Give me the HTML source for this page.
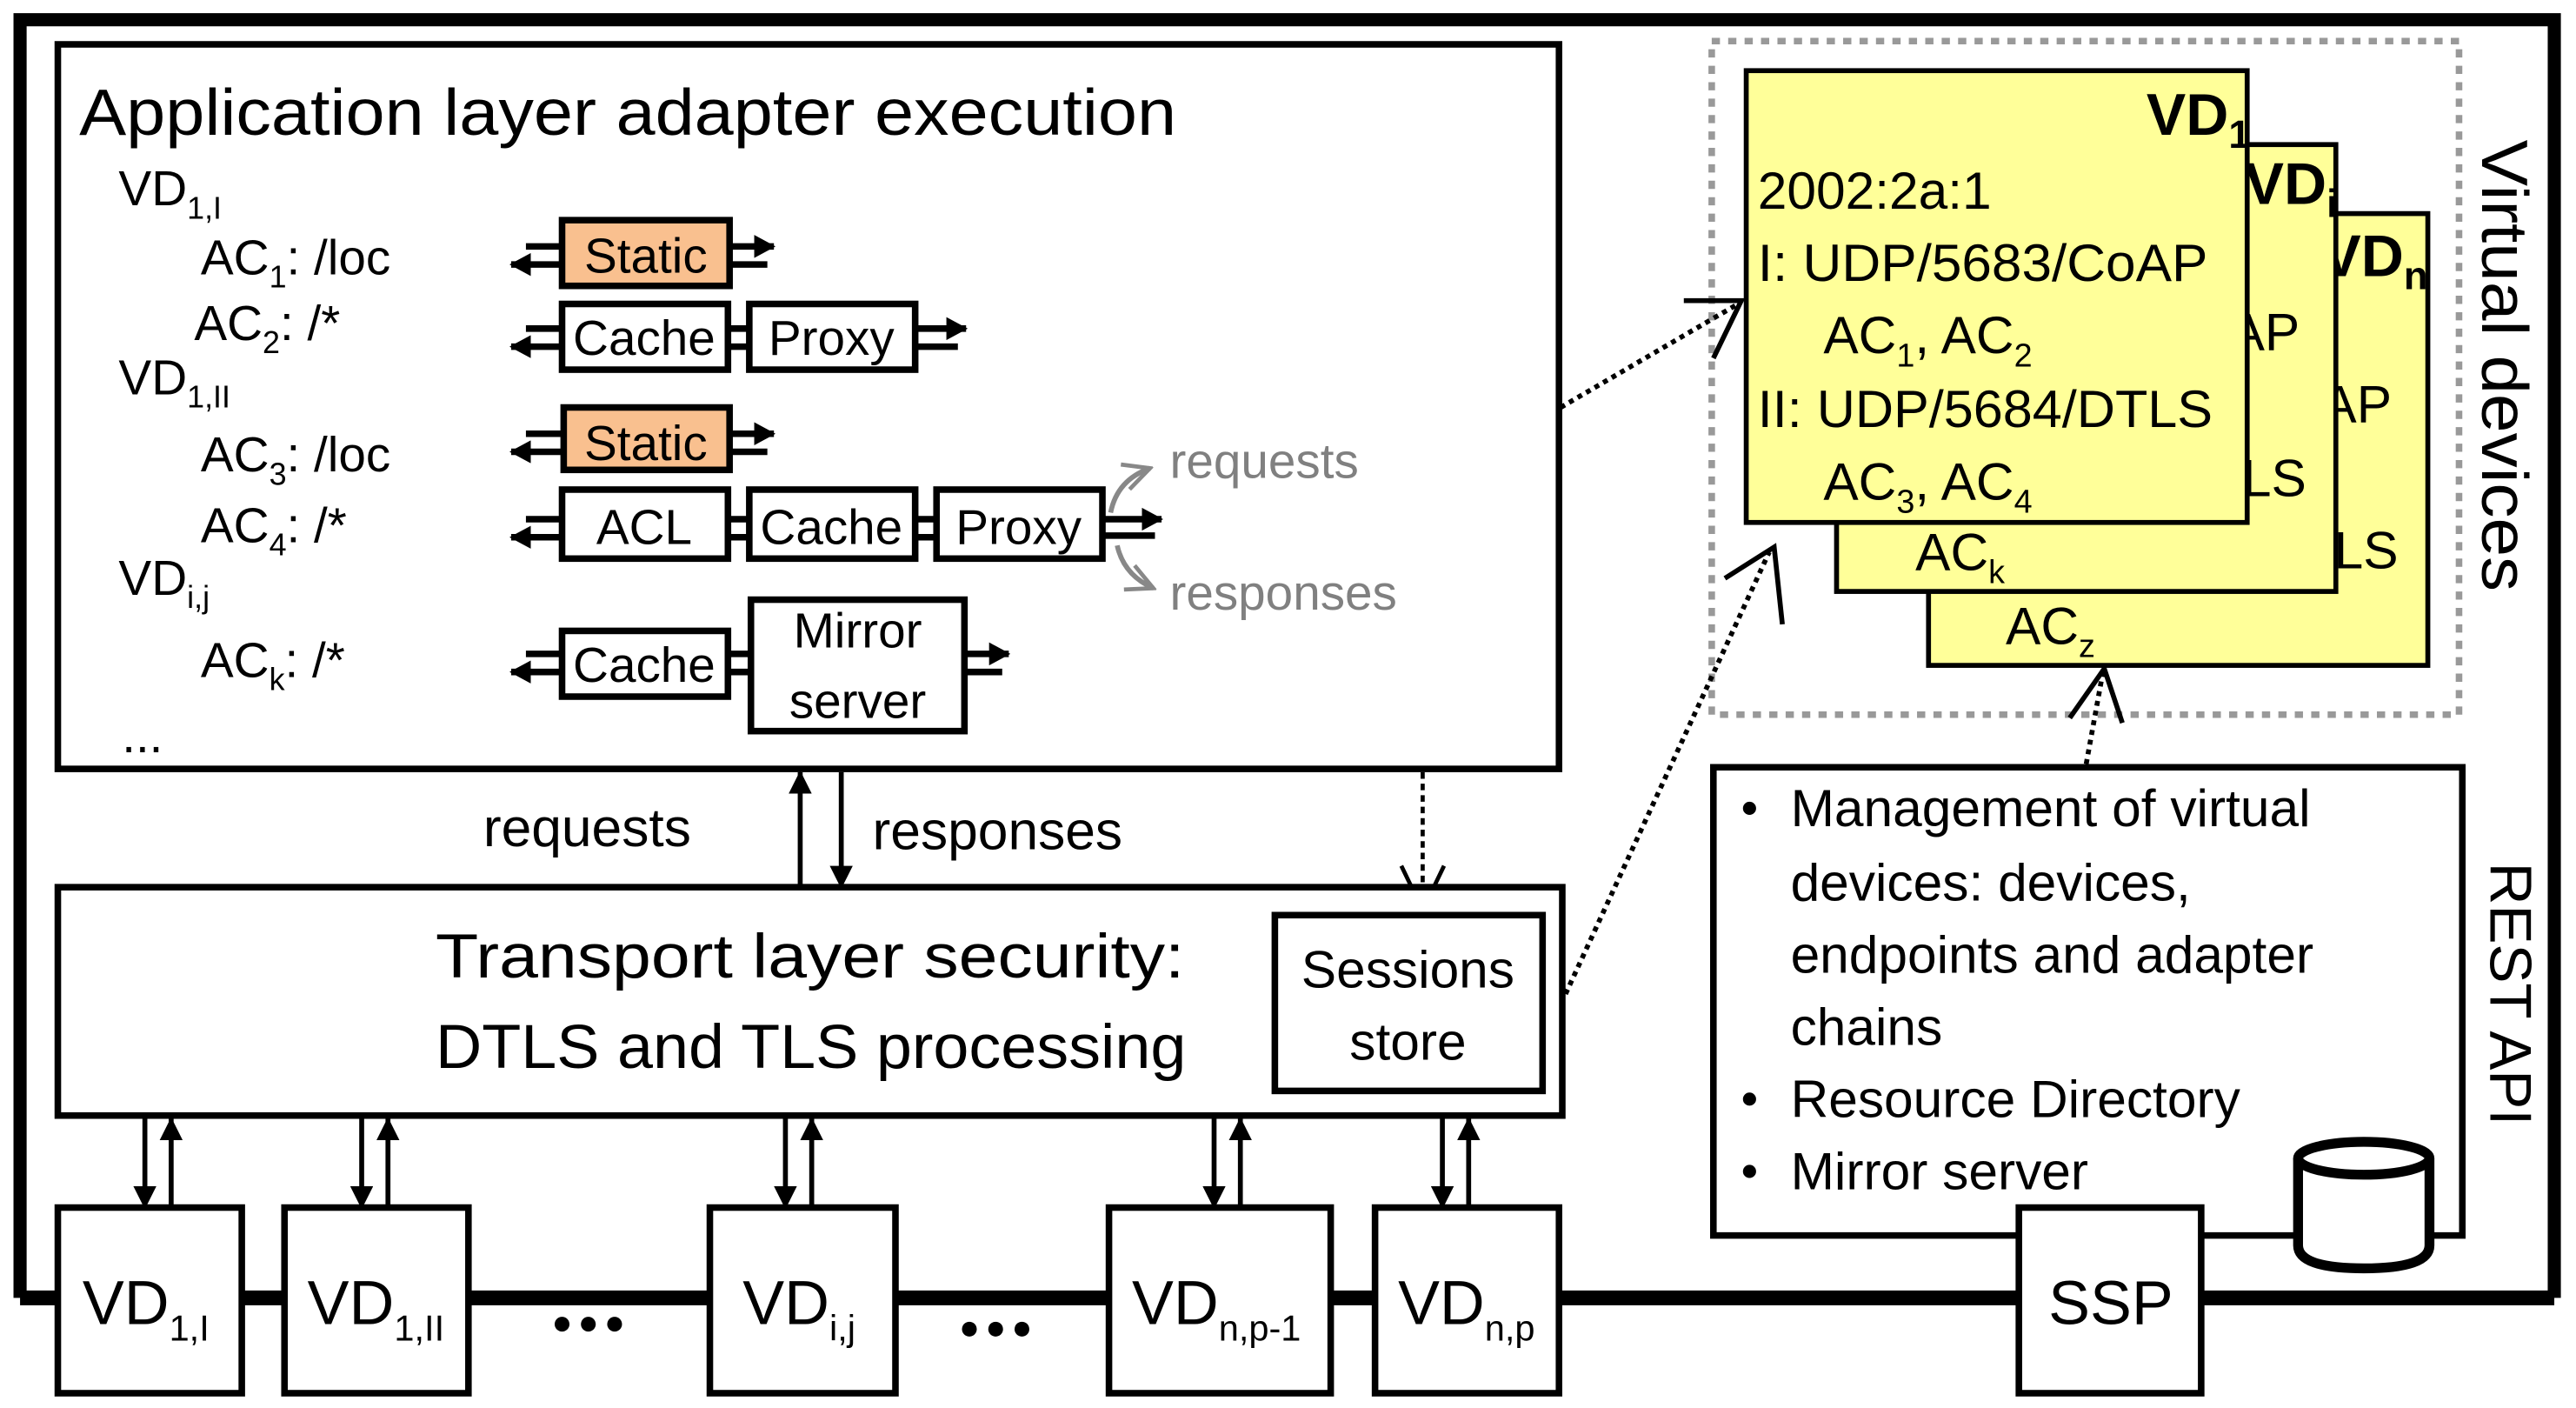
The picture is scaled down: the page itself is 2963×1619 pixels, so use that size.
<!DOCTYPE html>
<html><head><meta charset="utf-8"><style>
html,body{margin:0;padding:0;background:#fff;}
svg{display:block;}
text{font-family:"Liberation Sans Narrow","Liberation Sans",sans-serif;fill:#000;}
</style></head><body>
<svg width="2963" height="1619" viewBox="0 0 1568 857" xmlns="http://www.w3.org/2000/svg">
<defs>
<marker id="ah" markerWidth="13" markerHeight="14" refX="12" refY="7" orient="auto" markerUnits="userSpaceOnUse"><path d="M0,0 L13,7 L0,14 z" fill="#000"/></marker>
<marker id="ab" markerWidth="14" markerHeight="14" refX="13" refY="7" orient="auto" markerUnits="userSpaceOnUse"><path d="M0,0 L14,7 L0,14 z" fill="#000"/></marker>
<marker id="ag" markerWidth="20" markerHeight="20" refX="18" refY="10" orient="auto" markerUnits="userSpaceOnUse"><path d="M2,2 L18,10 L2,18" fill="none" stroke="#888" stroke-width="2.5"/></marker>
</defs>

<path d="M12,790 L12,12 L1555,12 L1555,790" fill="none" stroke="#000" stroke-width="8"/>
<line x1="12" y1="790" x2="1555" y2="790" stroke="#000" stroke-width="9"/>

<rect x="35" y="27" width="914" height="441" fill="#fff" stroke="#000" stroke-width="4"/>
<text x="48" y="82" font-size="40" textLength="668" lengthAdjust="spacingAndGlyphs">Application layer adapter execution</text>

<g font-size="30">
<text x="72" y="125">VD<tspan font-size="19" dy="8">1,I</tspan></text>
<text x="122" y="167">AC<tspan font-size="19" dy="8">1</tspan><tspan dy="-8">: /loc</tspan></text>
<text x="118" y="207">AC<tspan font-size="19" dy="8">2</tspan><tspan dy="-8">: /*</tspan></text>
<text x="72" y="240">VD<tspan font-size="19" dy="8">1,II</tspan></text>
<text x="122" y="287">AC<tspan font-size="19" dy="8">3</tspan><tspan dy="-8">: /loc</tspan></text>
<text x="122" y="330">AC<tspan font-size="19" dy="8">4</tspan><tspan dy="-8">: /*</tspan></text>
<text x="72" y="362">VD<tspan font-size="19" dy="8">i,j</tspan></text>
<text x="122" y="412">AC<tspan font-size="19" dy="8">k</tspan><tspan dy="-8">: /*</tspan></text>
<text x="74" y="458">...</text>
</g>

<g stroke="#000" stroke-width="4">
<line x1="320" y1="150" x2="342" y2="150"/><line x1="342" y1="161" x2="311" y2="161" marker-end="url(#ah)"/>
<line x1="444" y1="150" x2="471" y2="150" marker-end="url(#ah)"/><line x1="444" y1="161" x2="467" y2="161"/>
<line x1="320" y1="200" x2="342" y2="200"/><line x1="342" y1="211" x2="311" y2="211" marker-end="url(#ah)"/>
<line x1="443" y1="200" x2="456" y2="200"/><line x1="443" y1="211" x2="456" y2="211"/>
<line x1="557" y1="200" x2="588" y2="200" marker-end="url(#ah)"/><line x1="557" y1="211" x2="583" y2="211"/>
<line x1="320" y1="264" x2="343" y2="264"/><line x1="343" y1="275" x2="311" y2="275" marker-end="url(#ah)"/>
<line x1="444" y1="264" x2="471" y2="264" marker-end="url(#ah)"/><line x1="444" y1="275" x2="467" y2="275"/>
<line x1="320" y1="316" x2="342" y2="316"/><line x1="342" y1="327" x2="311" y2="327" marker-end="url(#ah)"/>
<line x1="443" y1="316" x2="456" y2="316"/><line x1="443" y1="327" x2="456" y2="327"/>
<line x1="557" y1="316" x2="570" y2="316"/><line x1="557" y1="327" x2="570" y2="327"/>
<line x1="671" y1="316" x2="707" y2="316" marker-end="url(#ah)"/><line x1="671" y1="326" x2="703" y2="326"/>
<line x1="320" y1="398" x2="342" y2="398"/><line x1="342" y1="409" x2="311" y2="409" marker-end="url(#ah)"/>
<line x1="443" y1="398" x2="457" y2="398"/><line x1="443" y1="409" x2="457" y2="409"/>
<line x1="587" y1="398" x2="614" y2="398" marker-end="url(#ah)"/><line x1="587" y1="409" x2="610" y2="409"/>
</g>
<g stroke="#000" stroke-width="4">
<rect x="342" y="134" width="102" height="40" fill="#F9C08F"/>
<rect x="342" y="185" width="101" height="40" fill="#fff"/>
<rect x="456" y="185" width="101" height="40" fill="#fff"/>
<rect x="343" y="248" width="101" height="38" fill="#F9C08F"/>
<rect x="342" y="298" width="101" height="42" fill="#fff"/>
<rect x="456" y="298" width="101" height="42" fill="#fff"/>
<rect x="570" y="298" width="101" height="42" fill="#fff"/>
<rect x="342" y="384" width="101" height="40" fill="#fff"/>
<rect x="457" y="365" width="130" height="80" fill="#fff"/>
</g>
<g font-size="30" text-anchor="middle">
<text x="393" y="166">Static</text>
<text x="392" y="216">Cache</text>
<text x="506" y="216">Proxy</text>
<text x="393" y="280">Static</text>
<text x="392" y="331">ACL</text>
<text x="506" y="331">Cache</text>
<text x="620" y="331">Proxy</text>
<text x="392" y="415">Cache</text>
<text x="522" y="394">Mirror</text>
<text x="522" y="437">server</text>
</g>
<path d="M676,312 Q680,292 700,285" fill="none" stroke="#888" stroke-width="3" marker-end="url(#ag)"/>
<path d="M680,332 Q684,350 702,358" fill="none" stroke="#888" stroke-width="3" marker-end="url(#ag)"/>
<text x="712" y="291" font-size="30" style="fill:#808080">requests</text>
<text x="712" y="371" font-size="30" style="fill:#808080">responses</text>

<text x="294" y="515" font-size="33">requests</text>
<text x="531" y="517" font-size="33">responses</text>
<line x1="487" y1="540" x2="487" y2="470" stroke="#000" stroke-width="3" marker-end="url(#ab)"/>
<line x1="512" y1="470" x2="512" y2="540" stroke="#000" stroke-width="3" marker-end="url(#ab)"/>
<line x1="866" y1="470" x2="866" y2="554" stroke="#000" stroke-width="2.5" stroke-dasharray="4,3"/>
<path d="M853,527 L866,554 L879,527" fill="none" stroke="#000" stroke-width="2.5"/>

<rect x="35" y="540" width="916" height="139" fill="#fff" stroke="#000" stroke-width="4"/>
<text x="265" y="595" font-size="38" textLength="456" lengthAdjust="spacingAndGlyphs">Transport layer security:</text>
<text x="265" y="650" font-size="38" textLength="457" lengthAdjust="spacingAndGlyphs">DTLS and TLS processing</text>
<rect x="776" y="557" width="163" height="107" fill="#fff" stroke="#000" stroke-width="4"/>
<text x="857" y="601" font-size="32" text-anchor="middle">Sessions</text>
<text x="857" y="645" font-size="32" text-anchor="middle">store</text>

<g stroke="#000" stroke-width="3">
<line x1="88" y1="681" x2="88" y2="735" marker-end="url(#ab)"/><line x1="104" y1="735" x2="104" y2="681" marker-end="url(#ab)"/>
<line x1="220" y1="681" x2="220" y2="735" marker-end="url(#ab)"/><line x1="236" y1="735" x2="236" y2="681" marker-end="url(#ab)"/>
<line x1="478" y1="681" x2="478" y2="735" marker-end="url(#ab)"/><line x1="494" y1="735" x2="494" y2="681" marker-end="url(#ab)"/>
<line x1="739" y1="681" x2="739" y2="735" marker-end="url(#ab)"/><line x1="755" y1="735" x2="755" y2="681" marker-end="url(#ab)"/>
<line x1="878" y1="681" x2="878" y2="735" marker-end="url(#ab)"/><line x1="894" y1="735" x2="894" y2="681" marker-end="url(#ab)"/>
</g>

<g fill="#fff" stroke="#000" stroke-width="4">
<rect x="35" y="735" width="112" height="113"/>
<rect x="173" y="735" width="112" height="113"/>
<rect x="432" y="735" width="113" height="113"/>
<rect x="675" y="735" width="135" height="113"/>
<rect x="837" y="735" width="112" height="113"/>
<rect x="1229" y="735" width="111" height="113"/>
</g>
<g font-size="38">
<text x="50" y="806">VD<tspan font-size="22" dy="10">1,I</tspan></text>
<text x="187" y="806">VD<tspan font-size="22" dy="10">1,II</tspan></text>
<text x="452" y="806">VD<tspan font-size="22" dy="10">i,j</tspan></text>
<text x="689" y="806">VD<tspan font-size="22" dy="10">n,p-1</tspan></text>
<text x="851" y="806">VD<tspan font-size="22" dy="10">n,p</tspan></text>
<text x="1285" y="806" text-anchor="middle">SSP</text>
</g>
<g fill="#000">
<circle cx="342" cy="806" r="4.5"/><circle cx="358" cy="806" r="4.5"/><circle cx="374" cy="806" r="4.5"/>
<circle cx="590" cy="809" r="4.5"/><circle cx="606" cy="809" r="4.5"/><circle cx="622" cy="809" r="4.5"/>
</g>

<path d="M1229,752 L1043,752 L1043,467 L1499,467 L1499,752 L1481,752" fill="none" stroke="#000" stroke-width="4"/>
<line x1="1340" y1="752" x2="1397" y2="752" stroke="#000" stroke-width="4"/>
<g font-size="32">
<text x="1090" y="503">Management of virtual</text>
<text x="1090" y="548">devices: devices,</text>
<text x="1090" y="592">endpoints and adapter</text>
<text x="1090" y="636">chains</text>
<text x="1090" y="680">Resource Directory</text>
<text x="1090" y="724">Mirror server</text>
</g>
<g fill="#000"><circle cx="1065" cy="492" r="4"/><circle cx="1065" cy="669" r="4"/><circle cx="1065" cy="713" r="4"/></g>
<path d="M1399,705 L1399,758 Q1399,772 1439,772 Q1479,772 1479,758 L1479,705" fill="#fff" stroke="#000" stroke-width="6"/>
<ellipse cx="1439" cy="705" rx="40" ry="10" fill="#fff" stroke="#000" stroke-width="6"/>
<text transform="translate(1516,525) rotate(90)" font-size="36" font-family="Liberation Sans, sans-serif" textLength="160" lengthAdjust="spacingAndGlyphs">REST API</text>
<text transform="translate(1511,85) rotate(90)" font-size="40" font-family="Liberation Sans, sans-serif" textLength="275" lengthAdjust="spacingAndGlyphs">Virtual devices</text>

<rect x="1042" y="25" width="455" height="410" fill="none" stroke="#999" stroke-width="4" stroke-dasharray="5,5"/>
<rect x="1174" y="130" width="304" height="275" fill="#FFFF99" stroke="#000" stroke-width="3"/>
<text x="1478" y="168" font-size="36" font-weight="bold" text-anchor="end">VD<tspan font-size="24" dy="8">n</tspan></text>
<g font-size="32">
<text x="1456" y="257" text-anchor="end">AP</text>
<text x="1460" y="346" text-anchor="end">LS</text>
<text x="1221" y="392">AC<tspan font-size="20" dy="8">z</tspan></text>
</g>
<rect x="1118" y="88" width="304" height="272" fill="#FFFF99" stroke="#000" stroke-width="3"/>
<text x="1423" y="124" font-size="36" font-weight="bold" text-anchor="end">VD<tspan font-size="24" dy="8">i</tspan></text>
<g font-size="32">
<text x="1400" y="213" text-anchor="end">AP</text>
<text x="1404" y="302" text-anchor="end">LS</text>
<text x="1166" y="347">AC<tspan font-size="20" dy="8">k</tspan></text>
</g>
<rect x="1063" y="43" width="305" height="275" fill="#FFFF99" stroke="#000" stroke-width="3"/>
<text x="1370" y="82" font-size="36" font-weight="bold" text-anchor="end">VD<tspan font-size="24" dy="8">1</tspan></text>
<g font-size="32">
<text x="1070" y="127">2002:2a:1</text>
<text x="1070" y="171" textLength="274" lengthAdjust="spacingAndGlyphs">I: UDP/5683/CoAP</text>
<text x="1110" y="215">AC<tspan font-size="20" dy="8">1</tspan><tspan dy="-8">, AC</tspan><tspan font-size="20" dy="8">2</tspan></text>
<text x="1070" y="260" textLength="277" lengthAdjust="spacingAndGlyphs">II: UDP/5684/DTLS</text>
<text x="1110" y="304">AC<tspan font-size="20" dy="8">3</tspan><tspan dy="-8">, AC</tspan><tspan font-size="20" dy="8">4</tspan></text>
</g>

<g stroke="#000" stroke-width="3" stroke-dasharray="3,3" fill="none">
<line x1="950" y1="248" x2="1058" y2="185"/>
<line x1="953" y1="605" x2="1077" y2="336"/>
<line x1="1270" y1="465" x2="1280" y2="410"/>
</g>
<g stroke="#000" stroke-width="3" fill="none">
<path d="M1025,183 L1060,183 L1043,218"/>
<path d="M1050,352 L1080,333 L1085,380"/>
<path d="M1260,437 L1281,407 L1292,440"/>
</g>
</svg>
</body></html>
